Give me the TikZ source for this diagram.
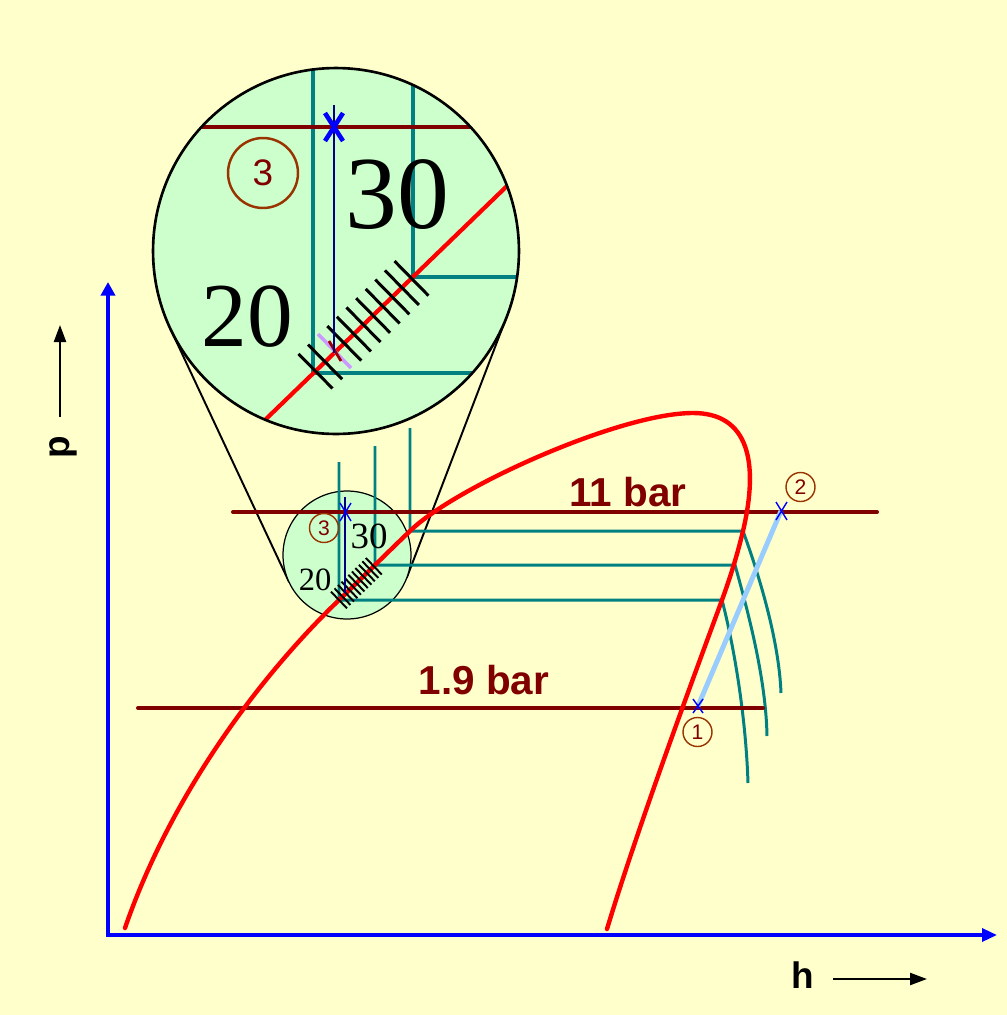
\documentclass[tikz,border=0pt]{standalone}
\usepackage{fontspec}
\setmainfont{Liberation Serif}
\setsansfont{Liberation Sans}
\usetikzlibrary{arrows.meta}
\definecolor{bgyellow}{HTML}{FFFFCC}
\definecolor{lensgreen}{HTML}{CCFFCC}
\definecolor{isoteal}{HTML}{008080}
\definecolor{barbrown}{HTML}{800000}
\definecolor{ringbrown}{HTML}{993300}
\definecolor{compblue}{HTML}{99CCFF}
\definecolor{navyline}{HTML}{000080}
\definecolor{lilac}{HTML}{CC99FF}
\definecolor{domered}{HTML}{FF0000}
\definecolor{axisblue}{HTML}{0000FF}
\begin{document}
\begin{tikzpicture}[x=0.02cm,y=-0.02cm,
  axisline/.style={axisblue,line width=1.9pt},
  isoline/.style={isoteal,line width=1.7pt},
  barline/.style={barbrown,line width=2.3pt,line cap=round},
  domeline/.style={domered,line width=2.5pt,line cap=round},
  tangline/.style={black,line width=1.1pt},
  hatchbig/.style={black,line width=1.7pt},
  hatchsmall/.style={black,line width=1.1pt},
  xmark/.style={axisblue,line width=0.8pt},
  barlabel/.style={text=barbrown,font=\sffamily\bfseries\fontsize{23}{23}\selectfont},
  ringsmall/.style={circle,draw=ringbrown,line width=0.8pt,minimum size=0.58cm,inner sep=0pt,text=barbrown,font=\sffamily\fontsize{12}{12}\selectfont},
  axislabel/.style={font=\sffamily\bfseries\fontsize{21}{21}\selectfont},
  tip/.style={-{Triangle[length=0.34cm,width=0.24cm]}}
]
\fill[bgyellow] (0,0) rectangle (1007,1015);
\useasboundingbox (0,0) rectangle (1007,1015);

% axes
\draw[axisline,{Triangle[length=0.27cm,width=0.28cm]}-{Triangle[length=0.3cm,width=0.26cm]}] (108,282) -- (108,935) -- (997,935);

% axis labels
\node[axislabel,rotate=90] (plabel) at (63,447) {p};
\coordinate (ptip) at (60,325);
\coordinate (pbase) at (60,417);
\draw[tip,line width=1.3pt] (pbase) -- (ptip);
\node[axislabel] (hlabel) at (803,975) {h};
\coordinate (hbase) at (833,979);
\coordinate (htip) at (927,979);
\draw[tip,line width=1.3pt] (hbase) -- (htip);

% magnifier tangent lines
\coordinate (tl1) at (170.3,328.6);
\coordinate (tl2) at (289.1,582.1);
\coordinate (tr1) at (506.8,316.4);
\coordinate (tr2) at (406.7,577.9);
\draw[tangline] (tl1) -- (tl2);
\draw[tangline] (tr1) -- (tr2);

% small lens
\fill[lensgreen] (347,555) circle[radius=1.28cm];
\draw[line width=0.7pt] (347,555) circle[radius=1.28cm];

% big lens
\fill[lensgreen] (336,251) circle[radius=3.66cm];
\begin{scope}
  \clip (336,251) circle[radius=3.66cm];
  \draw[isoline,line width=2pt] (313,30) -- (313,373) -- (540,373);
  \draw[isoline,line width=2pt] (413,30) -- (413,277) -- (540,277);
  \draw[barbrown,line width=2.4pt] (150,127) -- (520,127);
  \draw[domered,line width=2.4pt] (230,453.8) -- (540,154.1);
  \foreach \k in {0,1,3,4,5,6,7,8,9,10}{
    \pgfmathsetmacro\hx{315.5+9.6*\k}
    \pgfmathsetmacro\hy{420-0.9668*(\hx-265)}
    \draw[hatchbig] ({\hx-17},{\hy-17.3}) -- ({\hx+17},{\hy+17.3});
  }
  \draw[lilac,line width=2pt] (318,334) -- (351,368);
  \draw[barbrown!80!red,line width=1.6pt] (329,341) -- (341,361);
\end{scope}
\draw[navyline,line width=1.5pt] (334,105) -- (334,353);
\draw[axisblue,line width=2.6pt] (325,113) -- (343,141) (343,113) -- (325,141);
\draw[line width=1.5pt] (336,251) circle[radius=3.66cm];
\node[circle,draw=ringbrown,line width=1.4pt,minimum size=1.4cm,inner sep=0pt,text=barbrown,font=\sffamily\fontsize{21}{21}\selectfont] (bigthree) at (263,173) {3};
\node[font=\fontsize{59}{59}\selectfont,inner sep=0pt] (bigthirty) at (397,195) {30};
\node[font=\fontsize{52}{52}\selectfont,inner sep=0pt] (bigtwenty) at (247.5,316.5) {20};

% isotherms
\draw[isoline] (410,428) -- (410,531) -- (743,531) .. controls (759,575) and (779,640) .. (781,693);
\draw[isoline] (375,446) -- (375,565) -- (735,565) .. controls (749,615) and (766,680) .. (767,736);
\draw[isoline] (339,462) -- (339,600) -- (722,600) .. controls (735,650) and (746,720) .. (748,783);

% pressure lines
\draw[barline] (233,512) -- (877,512);
\draw[barline] (138,708) -- (763,708);
\node[barlabel] (elevenbar) at (628,492) {11 bar};
\node[barlabel] (onenine) at (484,680) {1.9 bar};

% saturation dome
\draw[domeline] (125,928) .. controls (167,806) and (249,687) .. (339,600)
  .. controls (363,577) and (386,554) .. (410,531)
  .. controls (455,487) and (620,413) .. (693,413)
  .. controls (748,413) and (759.5,461) .. (743,531)
  .. controls (737,556) and (730,578) .. (722,600)
  .. controls (700,660) and (640,820) .. (607,929);

% small lens detail
\foreach \k in {0,...,10}{
  \pgfmathsetmacro\hx{339+3.48*\k}
  \pgfmathsetmacro\hy{600-0.97*(\hx-339)}
  \draw[hatchsmall] ({\hx-8},{\hy-8.3}) -- ({\hx+8},{\hy+8.3});
}
\draw[navyline,line width=0.9pt] (345,497) -- (345,593);
\draw[xmark] (340,503) -- (351,521) (351,503) -- (340,521);
\node[ringsmall] (smallthree) at (324,528) {3};
\node[font=\fontsize{21}{21}\selectfont,inner sep=0pt] (smallthirty) at (369,536) {30};
\node[font=\fontsize{18.5}{18.5}\selectfont,inner sep=0pt] (smalltwenty) at (315,580) {20};

% compression line
\coordinate (st1) at (698,706);
\coordinate (st2) at (781,511);
\draw[compblue,line width=2.8pt] (st1) -- (st2);
\draw[xmark] (776,502) -- (787,520) (787,502) -- (776,520);
\draw[xmark] (693,699) -- (703,713) (703,699) -- (693,713);
\node[ringsmall] (ptone) at (697.5,732) {1};
\node[ringsmall] (pttwo) at (800.5,487) {2};
\end{tikzpicture}
\end{document}
